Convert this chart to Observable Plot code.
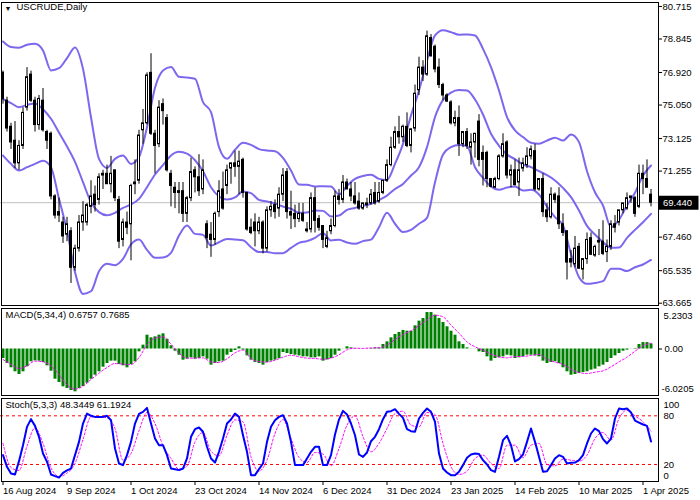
<!DOCTYPE html>
<html>
<head>
<meta charset="utf-8">
<script src="https://cdn.jsdelivr.net/npm/d3@7"></script>
<script src="https://cdn.jsdelivr.net/npm/@observablehq/plot@0.6"></script>
<style>
html,body{margin:0;padding:0;background:#fff;}
#chart{position:relative;width:700px;height:500px;overflow:hidden;background:#fff;}
#chart svg{position:absolute;left:0;}
</style>
</head>
<body>
<div id="chart"></div>
<script>
// ---------- DATA ----------
const symbolTitle = "USCRUDE,Daily";
const tickLabels = ["16 Aug 2024","9 Sep 2024","1 Oct 2024","23 Oct 2024","14 Nov 2024","6 Dec 2024","31 Dec 2024","23 Jan 2025","14 Feb 2025","10 Mar 2025","1 Apr 2025"];
const tickBars = [0,16,32,48,64,80,96,112,128,144,160];

const open = [
76.9,75.3,73.8,73.0,71.7,72.7,74.9,76.8,75.3,73.9,
75.3,73.5,73.4,69.8,68.9,68.3,67.6,67.8,65.7,66.8,
68.3,68.3,69.2,69.9,69.6,71.0,71.1,70.5,71.3,69.6,
67.3,68.3,68.2,70.5,70.7,73.6,74.0,76.9,73.4,72.8,
75.1,74.3,71.1,70.3,70.1,70.1,68.8,69.7,71.3,70.9,
70.2,68.2,67.6,67.3,68.9,70.2,70.4,71.4,71.7,71.5,
71.9,70.0,68.0,68.3,67.8,68.3,66.8,69.0,69.3,69.1,
69.9,71.2,68.9,68.8,68.5,68.8,67.8,67.9,69.7,68.5,
68.1,66.9,67.8,68.1,69.8,69.6,70.6,70.2,69.8,69.5,
69.1,69.3,69.4,70.0,69.5,70.0,70.7,71.6,72.6,73.5,
73.2,73.8,72.7,73.7,75.9,77.2,76.8,78.9,78.4,77.2,
76.2,75.6,75.2,74.0,74.3,72.8,73.5,72.6,72.9,74.1,
72.3,72.3,70.8,70.3,70.8,72.1,72.9,71.0,71.3,70.6,
71.4,71.6,72.1,72.4,70.2,70.8,69.0,68.6,69.9,69.8,
68.2,67.8,66.2,65.9,66.9,65.6,66.2,67.4,66.4,67.25,
67.2,66.6,66.9,68.2,68.3,69.0,69.1,69.7,69.7,69.2,
71.1,70.8,69.9];
const high = [
77.0,75.5,74.0,74.1,73.0,74.9,77.2,77.0,75.5,75.6,
76.0,73.6,73.5,69.9,69.7,68.6,68.6,68.0,67.0,68.7,
69.5,69.4,70.7,70.4,71.1,71.3,71.6,72.1,71.3,69.8,
68.5,68.9,70.5,71.9,73.6,74.8,76.9,78.0,73.6,75.3,
75.4,74.5,71.3,70.6,70.6,70.6,69.8,72.0,71.5,72.2,
71.9,68.4,68.3,68.9,70.7,71.2,71.6,71.7,72.4,72.4,
72.0,70.0,68.5,68.8,68.6,68.4,69.2,69.5,69.6,70.3,
71.4,71.4,70.1,69.3,69.4,69.4,68.3,70.0,70.3,68.7,
68.1,67.8,68.5,70.1,70.2,71.0,70.8,70.6,70.6,70.0,
69.4,69.7,70.2,70.6,70.6,70.7,71.9,73.2,73.8,74.4,
73.9,74.6,73.7,76.2,77.8,77.6,79.3,79.1,78.5,77.7,
76.3,75.7,75.3,74.7,75.0,73.5,73.7,73.4,73.4,74.5,
72.7,72.4,70.8,70.9,72.2,73.4,73.0,71.6,71.9,72.0,
72.0,72.6,72.7,72.8,70.8,71.1,69.4,70.3,70.0,70.3,
68.8,67.8,66.7,67.5,67.1,66.2,67.7,67.7,67.0,67.9,
68.4,67.3,68.4,68.7,69.0,69.4,70.0,69.8,69.8,71.6,
71.6,71.9,70.2];
const low = [
75.1,73.5,72.5,71.4,71.3,72.5,74.7,75.2,73.5,73.6,
73.5,72.5,69.6,68.5,68.3,67.1,67.2,64.8,65.5,66.6,
67.8,68.1,68.8,68.9,69.3,70.2,70.5,70.0,69.5,66.8,
66.9,67.6,66.1,69.9,70.5,72.8,73.9,73.3,71.1,72.6,
73.9,71.2,69.2,69.1,68.8,68.3,68.3,69.5,70.0,69.8,
69.9,66.8,66.3,67.0,68.6,69.0,69.9,70.5,70.9,69.9,
69.7,67.8,67.6,66.9,67.6,66.5,66.6,68.6,68.5,68.6,
69.5,68.5,67.9,68.0,68.3,68.3,67.7,67.7,67.7,67.8,
66.8,66.8,67.6,68.0,69.3,69.4,70.2,69.5,69.3,69.0,
69.0,69.1,69.3,69.3,69.4,69.9,70.6,71.5,72.5,72.8,
72.9,72.6,72.3,73.5,75.6,76.4,76.7,77.8,76.9,76.0,
75.3,75.2,73.9,73.8,72.1,72.6,72.5,71.6,72.0,71.5,
70.4,70.3,70.3,70.25,70.7,72.0,70.8,70.3,70.4,69.8,
71.2,71.4,71.9,70.1,70.1,68.6,68.3,68.5,69.4,67.9,
67.5,65.0,65.7,65.7,65.6,65.0,65.9,66.4,66.3,66.4,
66.4,66.0,66.7,67.7,68.1,68.8,69.0,69.4,68.6,69.1,
69.9,70.3,69.2];
const close = [
75.4,73.7,72.9,71.7,72.7,74.6,76.65,75.3,73.9,75.4,
73.6,73.0,69.8,68.7,68.7,67.5,68.2,65.7,66.8,68.3,
68.7,69.3,69.8,69.3,70.9,71.1,70.5,71.1,69.7,67.2,
68.3,68.0,70.4,70.6,73.3,74.0,76.75,73.4,72.7,74.9,
74.7,71.3,70.4,70.0,70.0,68.8,69.7,71.2,70.9,70.1,
71.3,67.4,67.3,68.8,70.1,69.1,71.3,71.7,71.5,71.8,
70.0,67.9,67.7,67.8,68.3,66.8,69.0,69.2,68.9,69.9,
71.0,68.9,68.7,68.5,68.8,68.4,67.9,69.7,68.4,68.0,
67.3,67.4,68.1,69.8,69.6,70.6,70.2,69.8,69.4,69.1,
69.4,69.4,69.9,69.4,70.0,70.7,71.6,72.6,73.5,73.2,
73.8,72.7,73.65,75.7,77.2,76.8,79.0,77.85,77.1,76.2,
75.6,75.25,74.0,74.3,72.8,73.5,72.7,72.9,73.4,71.9,
71.9,70.8,70.35,70.8,72.1,72.8,71.0,71.3,70.45,71.3,
71.7,72.1,72.5,70.2,70.8,68.9,68.6,69.9,69.6,68.2,
67.7,66.0,66.0,66.8,65.65,66.2,67.3,66.45,66.9,67.15,
66.5,66.9,68.2,68.0,69.0,69.4,69.7,69.8,68.8,71.1,
70.8,70.3,69.44];

// Bollinger bands read every 2nd bar (bars 0,2,4,...,162)
const bbUpper = [
78.70,78.38,78.34,78.51,78.57,78.19,77.04,77.17,77.75,78.36,
77.13,74.35,71.96,71.44,71.96,72.15,71.67,72.06,73.78,76.04,
77.04,77.23,76.67,76.63,76.56,75.22,74.64,72.63,71.96,72.48,
72.88,72.76,72.52,72.44,72.40,72.02,71.29,70.48,70.47,70.37,
70.39,70.37,69.91,70.41,70.81,70.97,71.04,70.81,70.75,71.67,
72.82,74.45,75.89,77.61,79.05,79.35,79.24,79.09,79.11,79.05,
78.28,77.23,75.89,74.36,73.59,73.21,72.88,72.82,73.01,73.17,
73.01,73.36,72.92,71.25,70.04,69.28,68.03,68.46,69.28,70.01,
71.00,71.58];
const bbMiddle = [
75.39,75.16,74.93,75.06,75.14,74.81,74.26,73.47,72.67,71.79,
70.62,69.47,68.90,68.72,68.86,69.14,69.34,69.66,70.33,71.06,
71.60,72.15,72.36,72.26,71.88,71.25,70.33,69.80,69.62,69.74,
70.08,69.99,69.60,69.51,69.39,69.22,69.09,68.86,68.88,68.99,
68.97,68.65,68.70,69.03,69.14,69.26,69.37,69.60,69.85,70.23,
70.52,71.00,71.48,72.63,74.36,75.35,75.77,75.91,75.89,75.37,
74.51,73.40,72.71,72.21,71.94,71.63,71.48,71.25,71.02,70.72,
70.29,69.76,68.99,68.11,67.61,67.17,66.85,66.86,67.42,67.88,
68.32,68.80];
const bbLower = [
72.15,71.67,71.29,71.48,71.67,71.85,71.48,69.66,67.84,65.45,
64.20,64.35,65.50,65.93,65.85,66.21,67.04,67.32,66.73,66.27,
66.29,66.56,67.55,68.13,67.65,67.59,66.98,67.17,67.36,67.32,
67.28,66.88,66.60,66.60,66.54,66.54,66.84,67.13,67.23,67.42,
67.69,67.27,67.31,67.15,67.08,67.23,67.32,68.03,68.86,68.23,
67.75,67.88,68.23,68.57,70.62,72.21,72.63,72.76,72.69,71.48,
70.87,70.37,70.18,70.31,70.37,70.14,70.18,69.91,69.22,68.61,
68.13,66.50,65.16,64.78,64.83,64.93,65.64,65.64,65.51,65.73,
65.89,66.15];

// MACD(5,34,4): main per bar, signal every 2nd bar
const macdMain = [
-1.26,-1.92,-2.49,-3.02,-3.38,-3.02,-2.36,-1.70,-1.57,-1.61,
-1.79,-2.23,-2.94,-4.00,-4.44,-5.01,-5.23,-5.50,-5.67,-5.23,
-4.97,-4.53,-4.00,-3.47,-3.02,-2.41,-1.92,-1.61,-1.61,-2.05,
-2.23,-2.49,-2.05,-1.70,-0.38,0.51,1.83,1.48,1.61,1.83,
2.01,1.30,0.42,-0.29,-0.82,-1.48,-1.35,-1.17,-1.35,-1.26,
-1.04,-1.35,-2.14,-1.92,-1.70,-1.61,-0.82,-0.46,-0.20,0.29,
-0.15,-0.91,-1.48,-1.79,-1.92,-2.14,-1.79,-1.61,-1.48,-1.26,
-0.46,-0.60,-0.73,-0.82,-0.91,-1.04,-1.04,-1.17,-1.17,-1.04,
-1.61,-1.45,-1.26,-0.82,-0.29,-0.02,0.29,0.15,0.07,-0.02,
-0.02,-0.02,0.07,0.15,0.15,0.60,0.95,1.48,1.92,2.19,
2.45,2.36,2.36,3.07,3.69,4.04,4.83,4.83,4.48,4.04,
3.51,2.94,2.36,1.83,0.95,0.60,0.15,-0.02,-0.02,-0.38,
-0.46,-1.04,-1.61,-1.26,-1.17,-1.04,-0.82,-0.91,-1.26,-1.17,
-1.04,-0.82,-0.82,-0.91,-1.04,-1.61,-1.92,-1.79,-1.70,-1.92,
-2.49,-3.02,-3.47,-3.38,-3.25,-3.11,-3.02,-2.80,-2.67,-2.36,
-2.14,-1.79,-1.26,-0.91,-0.60,-0.29,-0.15,-0.02,0.07,0.60,
0.85,0.85,0.68];
const macdSignal = [
-1.39,-2.05,-2.58,-2.23,-1.61,-1.70,-2.23,-3.38,-4.75,-5.32,
-4.92,-4.04,-3.20,-2.45,-1.92,-2.01,-2.05,-1.13,0.55,1.43,
1.61,0.64,-0.55,-1.21,-1.21,-1.17,-1.70,-1.79,-1.30,-0.51,
-0.15,-1.26,-1.66,-1.74,-1.48,-1.08,-0.82,-1.04,-1.21,-1.26,
-1.35,-1.21,-0.77,-0.11,0.11,0.07,0.15,0.15,0.51,1.26,
1.92,2.41,3.11,3.86,4.48,4.26,3.16,2.10,0.95,0.29,
-0.15,-0.68,-1.04,-1.17,-0.99,-0.99,-0.86,-0.73,-1.35,-1.74,
-2.05,-2.67,-3.11,-3.25,-3.07,-2.89,-2.36,-1.70,-1.08,-0.29,
0.42,0.77];
const macdAxisLabels = [5.2303, 0, -6.0205];

// Stochastic(5,3,3): main per bar, signal every 2nd bar
const stochMain = [
31.5,17.1,8.9,7.6,24.1,43.8,66.4,75.9,67.6,54.1,
33.5,23.3,7.6,5.6,3.9,9.7,12.6,15.0,31.5,47.9,
70.5,82.8,80.0,78.7,78.7,78.7,80.0,74.6,39.7,21.2,
19.2,31.5,47.9,70.5,82.4,84.9,89.8,70.5,52.0,43.8,
43.8,31.5,15.0,14.2,13.0,15.0,27.4,54.1,63.5,65.6,
60.3,41.8,27.4,22.4,35.6,52.0,70.5,75.4,82.8,78.7,
56.1,35.6,6.8,6.8,14.2,21.2,47.9,66.4,74.6,78.7,
80.8,70.5,47.9,19.2,19.2,19.2,27.4,35.6,41.8,41.8,
19.2,19.2,31.5,57.0,75.4,86.1,81.6,70.5,56.1,32.3,
29.4,34.8,48.7,54.1,63.5,75.9,84.9,85.7,88.2,82.4,
77.5,63.5,61.1,60.3,76.7,83.7,89.0,84.9,72.6,33.5,
15.0,10.1,6.8,6.8,10.9,19.2,28.2,32.2,33.5,32.8,
25.3,20.0,13.0,10.9,29.4,50.0,55.3,43.8,23.7,26.6,
32.3,47.9,64.4,47.9,29.4,10.9,11.7,19.2,27.4,31.5,
29.4,21.2,22.0,22.4,25.3,31.5,45.9,58.2,64.4,61.1,
51.2,45.9,52.0,76.7,89.0,88.2,89.0,84.1,74.2,71.7,
69.3,67.6,48.3];
const stochSignal = [
45.9,16.3,12.6,42.6,65.2,45.9,15.9,5.2,9.3,21.2,
50.8,78.7,78.7,77.5,64.4,25.3,33.5,61.5,84.1,70.5,
43.0,27.4,14.2,17.9,47.9,59.4,36.4,30.6,56.1,75.0,
72.6,29.4,11.7,25.3,58.2,75.4,52.0,28.6,22.4,34.8,
32.8,18.3,39.7,68.5,80.0,54.1,35.6,45.9,64.4,82.8,
85.7,68.5,66.4,84.1,81.6,45.9,17.1,7.6,11.7,27.4,
31.5,21.2,15.0,43.8,43.8,28.2,43.8,45.9,20.0,18.3,
26.6,25.3,24.1,31.5,52.0,59.4,50.0,76.7,87.0,80.0,
72.6,61.2];
const stochLevels = [20, 80];

const priceTicks = [80.715, 78.845, 76.920, 75.050, 73.125, 71.255, 67.460, 65.535, 63.665];
const lastPrice = 69.44;
const macdTitle = "MACD(5,34,4) 0.6757 0.7685";
const stochTitle = "Stoch(5,3,3) 48.3449 61.1924";

// ---------- TABLES ----------
const candles = close.map((c, i) => ({i, o: open[i], h: high[i], l: low[i], c}));
const halfIdx = d3.range(0, close.length, 2);
const bands = halfIdx.map((i, k) => ({i, up: bbUpper[k], mid: bbMiddle[k], lo: bbLower[k]}));
const macdRows = macdMain.map((v, i) => ({i, v}));
const macdSig = halfIdx.map((i, k) => ({i, v: macdSignal[k]}));
const stochRows = stochMain.map((v, i) => ({i, v}));
const stochSig = halfIdx.map((i, k) => ({i, v: stochSignal[k]}));

// ---------- STYLE / LAYOUT ----------
const FONT = "'Liberation Sans', Arial, sans-serif";
const BB = "#7b68ee";
const baseStyle = {background: "white", color: "black", fontFamily: FONT, fontSize: "9.5px", overflow: "visible"};
const X = {domain: [-0.5, 164], range: [0.5, 658.5], axis: null, label: null};
const MR = 42;
const frame = () => Plot.frame({stroke: "black", insetLeft: 0.5, insetTop: 0.5, insetRight: 0.5, insetBottom: 0.5, shapeRendering: "crispEdges"});
const chart = document.getElementById("chart");
function place(el, top) { el.style.position = "absolute"; el.style.top = top + "px"; el.style.left = "0px"; chart.append(el); }

// ---------- PRICE PANEL ----------
const pricePlot = Plot.plot({
  width: 700, height: 307,
  marginTop: 1, marginBottom: 2, marginLeft: 0, marginRight: MR,
  x: X,
  y: {domain: [63.533, 81.0], axis: null, label: null},
  style: baseStyle,
  marks: [
    Plot.ruleY([lastPrice], {stroke: "#c0c0c0", strokeWidth: 1}),
    Plot.line(bands, {x: "i", y: "up", stroke: BB, strokeWidth: 2, curve: "monotone-x"}),
    Plot.line(bands, {x: "i", y: "mid", stroke: BB, strokeWidth: 2, curve: "monotone-x"}),
    Plot.line(bands, {x: "i", y: "lo", stroke: BB, strokeWidth: 2, curve: "monotone-x"}),
    Plot.ruleX(candles, {x: "i", y1: "l", y2: "h", stroke: "black", strokeWidth: 1}),
    Plot.rect(candles, {x1: d => d.i - 0.25, x2: d => d.i + 0.25, y1: "o", y2: "c",
      fill: d => d.c >= d.o ? "white" : "black", stroke: "black", strokeWidth: 1}),
    Plot.axisY(priceTicks, {anchor: "right", label: null, tickSize: 3, tickPadding: 1, tickFormat: d => d.toFixed(3)}),
    Plot.ruleY([lastPrice], {x1: 164.1, x2: 174, stroke: "black", strokeWidth: 14}),
    Plot.text([lastPrice], {x: 164, y: d => d, text: d => d.toFixed(3), fill: "white", textAnchor: "start", dx: 4}),
    Plot.text(["\u25BC"], {frameAnchor: "top-left", dx: 4, dy: 5, fontSize: 7, fill: "black"}),
    Plot.text([symbolTitle], {frameAnchor: "top-left", dx: 16, dy: 2, fill: "black"}),
    frame()
  ]
});
place(pricePlot, 0);

// ---------- MACD PANEL ----------
const macdPlot = Plot.plot({
  width: 700, height: 90,
  marginTop: 1, marginBottom: 1, marginLeft: 0, marginRight: MR,
  x: X,
  y: {domain: [-6.159, 5.497], axis: null, label: null},
  style: baseStyle,
  marks: [
    Plot.ruleX(macdRows, {x: "i", y1: 0, y2: "v", stroke: "#008000", strokeWidth: 3}),
    Plot.line(macdSig, {x: "i", y: "v", stroke: "#ff00ff", strokeWidth: 1, strokeDasharray: "2,2", curve: "monotone-x"}),
    Plot.axisY([macdAxisLabels[1]], {anchor: "right", label: null, tickSize: 3, tickPadding: 3, tickFormat: () => "0.00"}),
    Plot.axisY([macdAxisLabels[0]], {anchor: "right", label: null, tickSize: 0, tickPadding: 5, dy: 6, tickFormat: d => d.toFixed(4)}),
    Plot.axisY([macdAxisLabels[2]], {anchor: "right", label: null, tickSize: 0, tickPadding: 3, dy: -6, tickFormat: d => d.toFixed(4)}),
    Plot.text([macdTitle], {frameAnchor: "top-left", dx: 5, dy: 4, fill: "black"}),
    frame()
  ]
});
place(macdPlot, 306);

// ---------- STOCHASTIC PANEL ----------
const stochPlot = Plot.plot({
  width: 700, height: 104,
  marginTop: 1, marginBottom: 19, marginLeft: 0, marginRight: MR,
  x: X,
  y: {domain: [-1.0, 102.6], axis: null, label: null},
  style: baseStyle,
  marks: [
    Plot.ruleY(stochLevels, {stroke: "#ff0000", strokeWidth: 1, strokeDasharray: "3,3"}),
    Plot.line(stochSig, {x: "i", y: "v", stroke: "#ff00ff", strokeWidth: 1, strokeDasharray: "2,2", curve: "monotone-x"}),
    Plot.line(stochRows, {x: "i", y: "v", stroke: "#0000ff", strokeWidth: 2}),
    Plot.axisY([100], {anchor: "right", label: null, tickSize: 0, tickPadding: 5, dy: 5}),
    Plot.axisY(stochLevels, {anchor: "right", label: null, tickSize: 0, tickPadding: 5}),
    Plot.axisY([0], {anchor: "right", label: null, tickSize: 0, tickPadding: 5, dy: -5}),
    Plot.axisX(tickBars, {anchor: "bottom", label: null, tickSize: 4, tickPadding: 2, textAnchor: "start",
      tickFormat: d => tickLabels[tickBars.indexOf(d)]}),
    Plot.text([stochTitle], {frameAnchor: "top-left", dx: 5, dy: 4, fill: "black"}),
    frame()
  ]
});
place(stochPlot, 396);
</script>
</body>
</html>
